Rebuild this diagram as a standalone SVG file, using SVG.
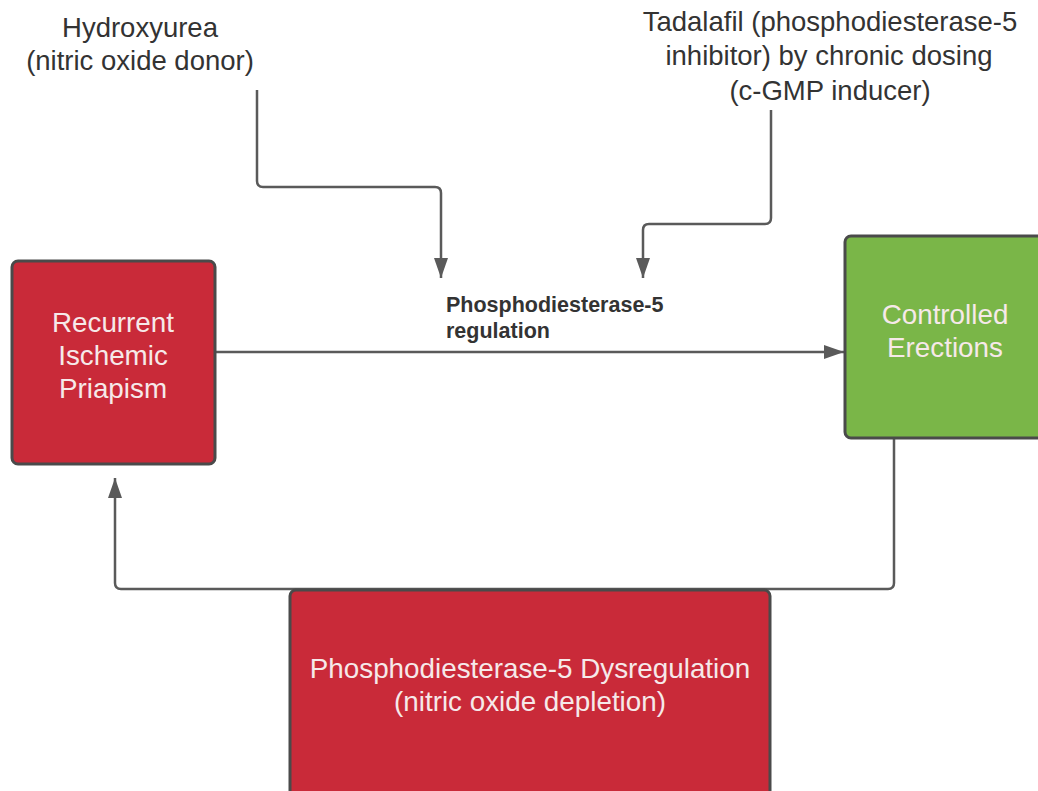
<svg xmlns="http://www.w3.org/2000/svg" width="1038" height="791" viewBox="0 0 1038 791">
<style>
.box{stroke:#4a4a4a;stroke-width:3}
.red{fill:#C92A39}
.green{fill:#7AB648}
.bt{font-family:"Liberation Sans",Arial,sans-serif;font-size:27.8px;fill:#F6E9E9;text-anchor:middle}
.t{font-family:"Liberation Sans",Arial,sans-serif;font-size:27.5px;fill:#333;text-anchor:middle}
.lbl{font-family:"Liberation Sans",Arial,sans-serif;font-size:21.5px;font-weight:bold;fill:#333}
.c{fill:none;stroke:#5a5a5a;stroke-width:2.5}
</style>
<defs>
<marker id="a" viewBox="0 0 20 14" refX="20" refY="7" markerWidth="20" markerHeight="14" markerUnits="userSpaceOnUse" orient="auto">
<path d="M0,0 L20,7 L0,14 z" fill="#5a5a5a"/>
</marker>
</defs>
<g id="connectors">
<path class="c" d="M216,352 H844" marker-end="url(#a)"/>
<path class="c" d="M257,90 V181 Q257,187 263,187 H435 Q441,187 441,193 V278" marker-end="url(#a)"/>
<path class="c" d="M771,110 V218 Q771,224 765,224 H649 Q643,224 643,230 V278" marker-end="url(#a)"/>
<path class="c" d="M894,439 V583 Q894,589 888,589 H121 Q115,589 115,583 V478" marker-end="url(#a)"/>
</g>
<g id="hydroxyurea">
<text class="t" x="140" y="37">Hydroxyurea</text>
<text class="t" x="140" y="70">(nitric oxide donor)</text>
</g>
<g id="tadalafil">
<text class="t" x="830" y="31">Tadalafil (phosphodiesterase-5</text>
<text class="t" x="829" y="65">inhibitor) by chronic dosing</text>
<text class="t" x="830" y="100">(c-GMP inducer)</text>
</g>
<g id="label">
<text class="lbl" x="446" y="312">Phosphodiesterase-5</text>
<text class="lbl" x="446" y="338">regulation</text>
</g>
<g id="priapism">
<rect class="box red" x="12" y="261" width="203" height="203" rx="6"/>
<text class="bt" x="113" y="332">Recurrent</text>
<text class="bt" x="113" y="365">Ischemic</text>
<text class="bt" x="113" y="398">Priapism</text>
</g>
<g id="erections">
<rect class="box green" x="845" y="236" width="200" height="202" rx="6"/>
<text class="bt" x="945" y="324">Controlled</text>
<text class="bt" x="945" y="357">Erections</text>
</g>
<g id="dysregulation">
<rect class="box red" x="290" y="590" width="480" height="210" rx="6"/>
<text class="bt" x="530" y="678">Phosphodiesterase-5 Dysregulation</text>
<text class="bt" x="530" y="711">(nitric oxide depletion)</text>
</g>
</svg>
